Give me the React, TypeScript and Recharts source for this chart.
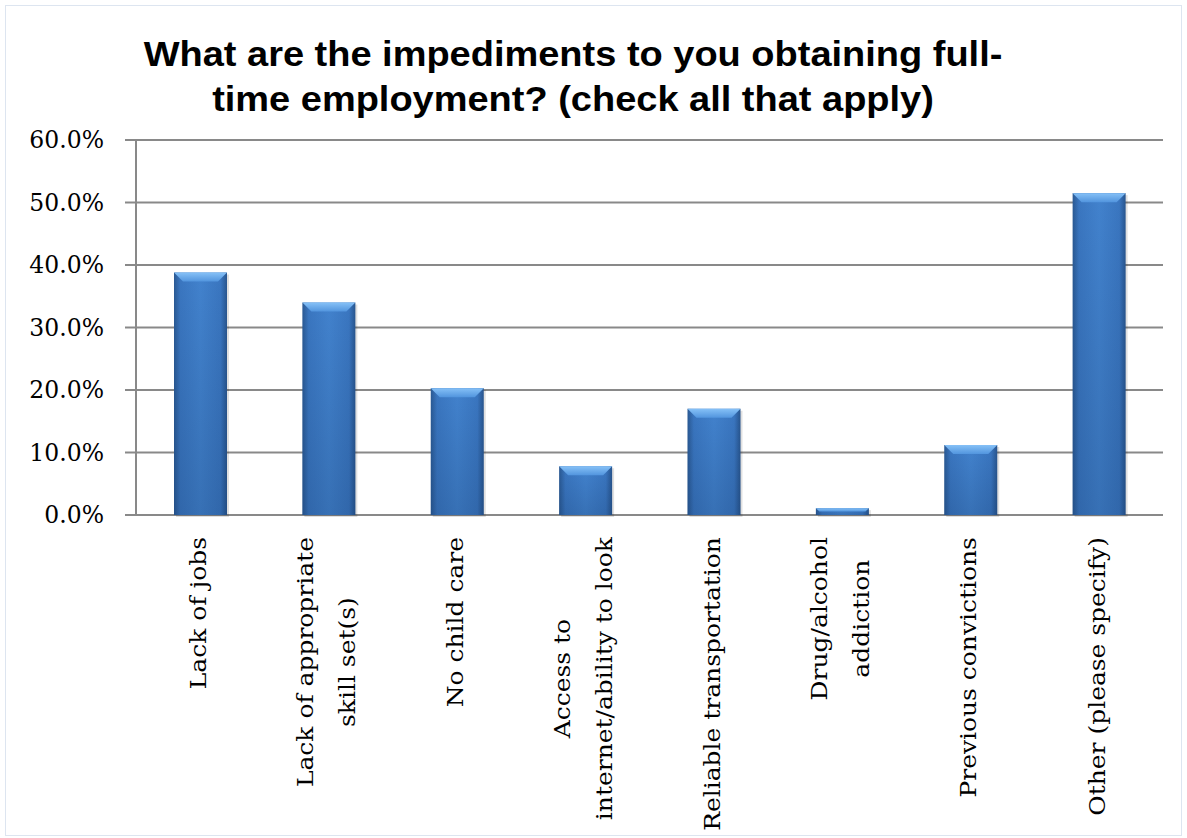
import { BarChart, Bar, XAxis, YAxis, CartesianGrid } from "recharts";

const categories = [
  "Lack of jobs",
  "Lack of appropriate skill set(s)",
  "No child care",
  "Access to internet/ability to look",
  "Reliable transportation",
  "Drug/alcohol addiction",
  "Previous convictions",
  "Other (please specify)",
];

// how each category label wraps under the axis
const labelLines = [
  ["Lack of jobs"],
  ["Lack of appropriate", "skill set(s)"],
  ["No child care"],
  ["Access to", "internet/ability to look"],
  ["Reliable transportation"],
  ["Drug/alcohol", "addiction"],
  ["Previous convictions"],
  ["Other (please specify)"],
];

const percents = [38.8, 34.0, 20.3, 7.8, 17.0, 1.1, 11.2, 51.5];
const yTicks = [0, 10, 20, 30, 40, 50, 60];
const edgeTicks = [0, 1, 2, 3, 4, 5, 6, 7, 8];

const data = categories.map((name, i) => ({ name, value: percents[i] }));

const GRID = "#898989";
const LABEL_FS = 22.5;
const LABEL_SX = 1.11;
const LABEL_FONT = "DejaVu Serif";
const LINE_H = 42;
const GAP = 22;

let ctx: CanvasRenderingContext2D | null = null;
function textWidth(s: string) {
  if (!ctx) ctx = document.createElement("canvas").getContext("2d");
  if (!ctx) return s.length * LABEL_FS * 0.55;
  ctx.font = `${LABEL_FS}px "${LABEL_FONT}"`;
  return ctx.measureText(s).width;
}

function CategoryTick(props: any) {
  const { x, y, index, payload } = props;
  const lines = labelLines[index] ?? [payload.value];
  const maxW = Math.max(...lines.map(textWidth));
  const n = lines.length;
  return (
    <g transform={`translate(${x},${y}) rotate(-90) scale(${LABEL_SX},1)`}>
      {lines.map((l: string, i: number) => (
        <text
          key={i}
          x={-(GAP / LABEL_SX + maxW / 2)}
          y={(i - (n - 1) / 2) * LINE_H + 0.26 * LABEL_FS}
          textAnchor="middle"
          fontFamily={LABEL_FONT}
          fontSize={LABEL_FS}
          fill="#000"
        >
          {l}
        </text>
      ))}
    </g>
  );
}

function BevelBar(props: any) {
  const { x, y, width, height, index } = props;
  if (!height || height <= 0) return null;
  const b = Math.min(9, height / 2);
  const id = `bb${index}`;
  return (
    <g>
      <defs>
        <linearGradient id={`${id}h`} x1="0" y1="0" x2="1" y2="0">
          <stop offset="0" stopColor="#2a5993" />
          <stop offset="0.12" stopColor="#3a76c0" />
          <stop offset="0.5" stopColor="#4282cd" />
          <stop offset="0.88" stopColor="#3a76c0" />
          <stop offset="1" stopColor="#28558e" />
        </linearGradient>
        <linearGradient id={`${id}v`} x1="0" y1="0" x2="0" y2="1">
          <stop offset="0" stopColor="#0b2a55" stopOpacity="0" />
          <stop offset="1" stopColor="#0b2a55" stopOpacity="0.2" />
        </linearGradient>
        <linearGradient id={`${id}t`} x1="0" y1="0" x2="0" y2="1">
          <stop offset="0" stopColor="#86c1f7" />
          <stop offset="1" stopColor="#5295de" />
        </linearGradient>
      </defs>
      <rect x={x + 2} y={y + 2} width={width} height={height} fill="#000" opacity={0.12} />
      <rect x={x} y={y} width={width} height={height} fill={`url(#${id}h)`} />
      <rect x={x} y={y} width={width} height={height} fill={`url(#${id}v)`} />
      <polygon
        points={`${x},${y} ${x + width},${y} ${x + width - b},${y + b} ${x + b},${y + b}`}
        fill={`url(#${id}t)`}
      />
    </g>
  );
}

export default function App() {
  return (
    <div style={{ position: "absolute", left: 0, top: 0, width: 1187, height: 838, background: "#fff" }}>
      <div
        style={{
          position: "absolute",
          left: 5,
          top: 5,
          width: 1175,
          height: 829,
          border: "1.5px solid #dde5f0",
        }}
      />
      <div
        style={{
          position: "absolute",
          left: 0,
          top: 31,
          width: 1146,
          textAlign: "center",
          fontFamily: "'Liberation Sans', Arial, sans-serif",
          fontWeight: "bold",
          fontSize: 35,
          lineHeight: "45px",
          color: "#000",
          transform: "scaleX(1.085)",
          transformOrigin: "573px 0",
        }}
      >
        What are the impediments to you obtaining full-
        <br />
        time employment? (check all that apply)
      </div>
      <div style={{ position: "absolute", left: 0, top: 0 }}>
        <BarChart
          width={1187}
          height={838}
          data={data}
          margin={{ top: 140, right: 24, bottom: 13, left: 0 }}
        >
          <CartesianGrid
            xAxisId="cat"
            vertical={false}
            stroke={GRID}
            strokeWidth={2}
          />
          <XAxis
            xAxisId="edge"
            type="number"
            domain={[0, 8]}
            ticks={edgeTicks}
            tick={false}
            tickSize={10}
            height={0}
            axisLine={{ stroke: GRID, strokeWidth: 2 }}
            tickLine={{ stroke: GRID, strokeWidth: 2 }}
          />
          <XAxis
            xAxisId="cat"
            dataKey="name"
            interval={0}
            axisLine={false}
            tickLine={false}
            tickSize={0}
            tickMargin={0}
            height={310}
            tick={<CategoryTick />}
          />
          <YAxis
            width={136}
            domain={[0, 60]}
            ticks={yTicks}
            tickFormatter={(v: number) => `${v.toFixed(1)}%`}
            tickSize={11}
            tickMargin={21}
            axisLine={{ stroke: GRID, strokeWidth: 2 }}
            tickLine={{ stroke: GRID, strokeWidth: 2 }}
            tick={{ fill: "#000", fontSize: 23.5, fontFamily: "DejaVu Serif" }}
          />
          <Bar
            xAxisId="cat"
            dataKey="value"
            barSize={53}
            shape={<BevelBar />}
            isAnimationActive={false}
          />
        </BarChart>
      </div>
    </div>
  );
}
